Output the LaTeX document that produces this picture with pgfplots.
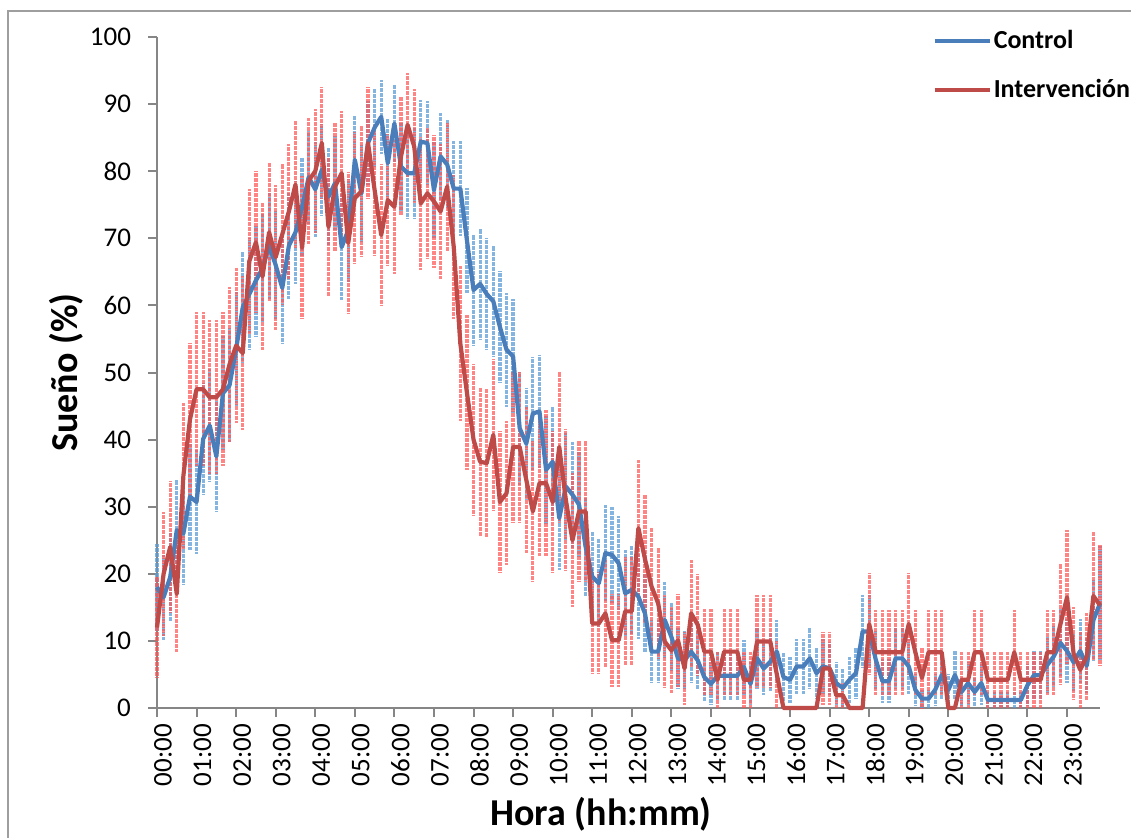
\documentclass[border=0pt]{standalone}
\usepackage{pgfplots}
\usepackage{pgfplotstable}
\pgfplotsset{compat=1.18}
\usepackage{fontspec}
\setmainfont{Carlito}
\definecolor{cline}{HTML}{4A7EBB}
\definecolor{rline}{HTML}{BE4B48}
\definecolor{cbar}{HTML}{5B9BD5}
\definecolor{rbar}{HTML}{FF5050}
\definecolor{axisgray}{HTML}{868686}
\pgfplotstableread{
i c ce r re
0 18 6.5 12 7.5
1 16.5 6.3 20 9.2
2 19.5 6.7 24 9.8
3 26.5 7.5 17 8.6
4 26 7.5 34.6 10.9
5 31.5 7.9 43 11.4
6 30.7 7.8 47.5 11.5
7 40.1 8.3 47.5 11.5
8 42.1 8.4 46.3 11.5
9 37.5 8.2 46.3 11.5
10 46.9 8.5 47.5 11.5
11 48.1 8.5 51.2 11.5
12 53.5 8.5 54 11.5
13 59.7 8.3 52.9 11.5
14 61.7 8.3 66.6 10.8
15 63.7 8.2 69.4 10.6
16 65.5 8.1 64.3 11.0
17 68.9 7.9 70.9 10.4
18 66.0 8.1 67.2 10.8
19 62.6 8.2 70.6 10.5
20 68.9 7.9 74 10.1
21 70.9 7.7 78 9.5
22 74.6 7.4 68.6 10.7
23 79.1 6.9 78.6 9.4
24 77.3 7.1 80 9.2
25 80.2 6.8 84.2 8.4
26 76.2 7.2 71.7 10.4
27 78.2 7.0 77.7 9.6
28 68.7 7.9 79.7 9.2
29 71.2 7.7 69.3 10.6
30 81.7 6.6 76.0 9.8
31 76.7 7.2 77.0 9.7
32 84.2 6.2 84.2 8.4
33 86.5 5.8 77.2 9.7
34 88.1 5.5 70.5 10.5
35 81.2 6.6 75.7 9.9
36 87.1 5.7 74.7 10.0
37 80.7 6.7 82.2 8.8
38 79.7 6.8 86.9 7.8
39 79.7 6.8 83.7 8.5
40 84.4 6.2 75.2 9.9
41 84.2 6.2 76.7 9.7
42 77.2 7.1 75.5 9.9
43 82.2 6.5 74.0 10.1
44 81.0 6.7 77.7 9.6
45 77.4 7.1 68.7 10.7
46 77.4 7.1 54.3 11.5
47 69.7 7.8 47 11.5
48 62.3 8.2 40 11.3
49 63.2 8.2 36.7 11.1
50 61.7 8.3 36.5 11.1
51 60.6 8.3 40.7 11.3
52 56.8 8.4 30.7 10.6
53 53.4 8.5 32.0 10.7
54 52.4 8.5 38.9 11.2
55 41.7 8.4 38.9 11.2
56 39.4 8.3 34.0 10.9
57 43.9 8.4 29.3 10.5
58 44.2 8.4 33.5 10.9
59 35.5 8.1 33.5 10.9
60 36.7 8.2 30.7 10.6
61 28.3 7.7 38.9 11.2
62 33.0 8.0 31.0 10.6
63 31.8 7.9 25.0 10.0
64 30.3 7.8 29.3 10.5
65 24.0 7.3 29.3 10.5
66 19.6 6.7 12.6 7.6
67 18.6 6.6 12.6 7.6
68 23.1 7.2 14.1 8.0
69 22.8 7.1 10.1 6.9
70 21.6 7.0 10.1 6.9
71 17.1 6.4 14.4 8.1
72 17.6 6.5 14.4 8.1
73 16.6 6.3 26.8 10.2
74 14.1 5.9 22.2 9.6
75 8.4 4.7 18.1 8.9
76 8.4 4.7 15.6 8.3
77 13.1 5.7 9.9 6.9
78 10.6 5.2 8.6 6.4
79 7.4 4.5 10.1 6.9
80 7.1 4.4 5.9 5.4
81 8.4 4.7 14.1 8.0
82 7.1 4.4 12.4 7.6
83 4.6 3.6 8.4 6.4
84 3.6 3.2 8.4 6.4
85 4.8 3.6 4.2 4.2
86 4.8 3.6 8.4 6.4
87 4.8 3.6 8.4 6.4
88 4.8 3.6 8.4 6.4
89 6.1 4.1 4.2 4.2
90 3.6 3.2 4.2 4.2
91 7.4 4.5 9.9 6.9
92 5.9 4.0 9.9 6.9
93 6.9 4.3 9.9 6.9
94 8.4 4.7 5 5.0
95 4.6 3.6 0 0
96 4.2 3.4 0 0
97 6.2 4.1 0 0
98 6.2 4.1 0 0
99 7.4 4.5 0 0
100 5.2 3.8 0 0
101 6.2 4.1 5.9 5.4
102 5.9 4.0 5.9 5.4
103 3.7 3.2 1.9 1.9
104 3.0 2.9 1.9 1.9
105 4.2 3.4 0 0
106 5.2 3.8 0 0
107 11.4 5.4 0 0
108 11.4 5.4 12.5 7.6
109 7.2 4.4 8.3 6.3
110 4.0 3.3 8.3 6.3
111 4.0 3.3 8.3 6.3
112 7.4 4.5 8.3 6.3
113 7.4 4.5 8.3 6.3
114 6.2 4.1 12.5 7.6
115 2.7 2.4 8.3 6.3
116 1.4 1.4 4.5 4.5
117 1.4 1.4 8.3 6.3
118 2.7 2.4 8.3 6.3
119 4.9 3.7 8.3 6.3
120 2.7 2.4 0 0
121 4.9 3.7 0 0
122 2.4 2.2 4.2 4.2
123 3.7 3.2 4.2 4.2
124 2.4 2.2 8.3 6.3
125 3.7 3.2 8.3 6.3
126 1.2 1.2 4.2 4.2
127 1.2 1.2 4.2 4.2
128 1.2 1.2 4.2 4.2
129 1.2 1.2 4.2 4.2
130 1.2 1.2 8.3 6.3
131 1.2 1.2 4.2 4.2
132 3.4 3.1 4.2 4.2
133 4.9 3.7 4.2 4.2
134 4.9 3.7 4.2 4.2
135 6.4 4.2 8.3 6.3
136 7.7 4.5 8.3 6.3
137 9.7 5.0 12.5 9.0
138 8.5 4.7 16.5 10.0
139 6.8 4.3 8.1 6.9
140 8.5 4.7 5.7 5.7
141 6.3 4.1 7.7 6.5
142 13.1 6.0 16.7 9.6
143 15.6 8.5 15.3 9.0
}\data
\begin{document}
\begin{tikzpicture}[x=1pt,y=1pt]
\useasboundingbox (0,0) rectangle (565.5,418.5);
\draw[axisgray!80, line width=0.6pt] (4,-5) -- (4,413) -- (575,413);
\begin{axis}[
  at={(78.5pt,64.5pt)}, anchor=south west,
  scale only axis, width=471.5pt, height=335.5pt,
  xmin=0, xmax=143, ymin=0, ymax=100,
  clip=false,
  axis lines=left,
  axis line style={-, draw=axisgray, line width=1pt},
  tick style={draw=axisgray, line width=1pt},
  major tick length=4.5pt,
  tick align=outside,
  ytick={0,10,...,100},
  xtick={0,6,...,138},
  xticklabels={00:00,01:00,02:00,03:00,04:00,05:00,06:00,07:00,08:00,09:00,10:00,11:00,12:00,13:00,14:00,15:00,16:00,17:00,18:00,19:00,20:00,21:00,22:00,23:00},
  x tick label style={rotate=90, anchor=east, yshift=-3pt, font=\fontsize{13.5}{15}\selectfont},
  y tick label style={xshift=-5pt, font=\fontsize{13.5}{15}\selectfont},
  /pgf/number format/assume math mode=true,
  xlabel={\bfseries Hora (hh:mm)},
  ylabel={\bfseries Sueño (\%)},
  xlabel style={at={(axis description cs:0.471,0)}, anchor=center, yshift=-53pt, font=\fontsize{19}{22}\selectfont},
  ylabel style={at={(axis description cs:0,0.5)}, anchor=center, xshift=0pt, yshift=45.5pt, font=\fontsize{19}{22}\selectfont},
  legend style={at={(axis description cs:0.822,1.011)}, anchor=north west, draw=none, fill=none,
    inner sep=0pt, row sep=14pt,
    nodes={inner xsep=1pt, inner ysep=0pt, font=\bfseries\fontsize{13}{15}\selectfont}},
  legend cell align=left,
  legend image code/.code={\draw[#1] (0pt,0pt) -- (27.5pt,0pt);},
]
\addplot[forget plot, draw=none, mark=none,
  error bars/.cd, y dir=both, y explicit, error mark=none,
  error bar style={line width=1.6pt, draw=cbar, opacity=0.75, dash pattern=on 2pt off 0.5pt}]
  table[x=i, y=c, y error=ce] {\data};
\addplot[forget plot, draw=none, mark=none,
  error bars/.cd, y dir=both, y explicit, error mark=none,
  error bar style={line width=1.6pt, draw=rbar, opacity=0.7, dash pattern=on 2pt off 0.5pt}]
  table[x=i, y=r, y error=re] {\data};
\addplot[cline, line width=2.1pt, mark=none, line join=round] table[x=i, y=c] {\data};
\addlegendentry{Control}
\addplot[rline, line width=2.1pt, mark=none, line join=round] table[x=i, y=r] {\data};
\addlegendentry{Intervención}
\end{axis}
\end{tikzpicture}
\end{document}
